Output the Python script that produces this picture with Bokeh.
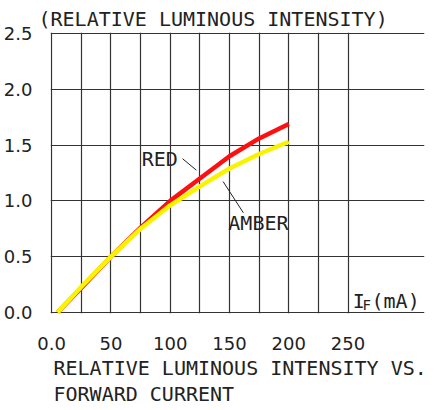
from bokeh.plotting import figure
from bokeh.models import Range1d, FixedTicker, Title, NumeralTickFormatter
from bokeh.core.properties import value
from bokeh.embed import file_html
from bokeh.resources import INLINE

# data
current_ma = [5, 25, 50, 75, 100, 125, 150, 175, 200]
red_iv = [0.0, 0.22, 0.5, 0.76, 1.0, 1.2, 1.4, 1.56, 1.69]
amber_iv = [0.0, 0.23, 0.5, 0.75, 0.96, 1.13, 1.29, 1.42, 1.53]
x_ticks = [0, 50, 100, 150, 200, 250]
y_ticks = [0.0, 0.5, 1.0, 1.5, 2.0, 2.5]
x_grid = [0, 25, 50, 75, 100, 125, 150, 175, 200, 225, 250]

# annotation positions (data coords)
label_x = [76, 149]
label_y = [1.375, 0.80]
label_text = ["RED", "AMBER"]
leader_x0 = [110.4, 144.6]
leader_y0 = [1.378, 1.173]
leader_x1 = [122.1, 161.7]
leader_y1 = [1.275, 0.893]
unit_x = [254.0, 269.8]
unit_y = [0.10, 0.10]
unit_text = ["I", "(mA)"]
sub_x = [262.3]
sub_y = [0.065]
sub_text = ["F"]

FONT = "DejaVu Sans Mono"
TICKFONT = "DejaVu Sans"
TXT = "#222222"
FS = "20px"
TFS = "18px"

p = figure(width=430, height=408, output_backend="svg", toolbar_location=None,
           x_range=Range1d(-1, 314.5), y_range=Range1d(-0.01, 2.51),
           min_border_left=40, min_border_right=6, min_border_top=32, min_border_bottom=91)
p.background_fill_color = "white"
p.border_fill_color = "white"
p.outline_line_color = None

p.xgrid.ticker = FixedTicker(ticks=x_grid)
p.ygrid.ticker = FixedTicker(ticks=y_ticks)
p.xgrid.bounds = (0, 2.5)
p.ygrid.bounds = (0, 250)
for g in (p.xgrid, p.ygrid):
    g.grid_line_color = "#333333"
    g.grid_line_width = 1.2
    g.grid_line_alpha = 1.0

p.xaxis.ticker = FixedTicker(ticks=x_ticks)
p.xaxis.major_label_overrides = {0: "0.0"}
p.yaxis.ticker = FixedTicker(ticks=y_ticks)
p.yaxis.formatter = NumeralTickFormatter(format="0.0")
for ax in (p.xaxis, p.yaxis):
    ax.axis_line_color = None
    ax.major_tick_line_color = None
    ax.minor_tick_line_color = None
    ax.major_label_text_font = TICKFONT
    ax.major_label_text_font_size = TFS
    ax.major_label_text_color = TXT
p.xaxis.major_label_standoff = 17
p.yaxis.major_label_standoff = 12

p.line(current_ma, red_iv, line_color="#ff1010", line_width=4.5)
p.line(current_ma, amber_iv, line_color="#f8f400", line_width=4.5)

p.segment(x0=leader_x0, y0=leader_y0, x1=leader_x1, y1=leader_y1,
          line_color="#222222", line_width=1)
p.text(x=label_x, y=label_y, text=label_text,
       text_font=value(FONT), text_font_size=FS, text_color=TXT,
       text_baseline="middle", text_align="left")
p.text(x=unit_x, y=unit_y, text=unit_text,
       text_font=value(FONT), text_font_size=FS, text_color=TXT,
       text_baseline="middle", text_align="left")
p.text(x=sub_x, y=sub_y, text=sub_text,
       text_font=value(FONT), text_font_size="14px", text_color=TXT,
       text_baseline="middle", text_align="left")

top = Title(text="(RELATIVE LUMINOUS INTENSITY)", align="left", offset=-12,
            text_font=FONT, text_font_size=FS, text_font_style="normal",
            text_color=TXT, standoff=4)
p.add_layout(top, "above")

bottom = Title(text="RELATIVE LUMINOUS INTENSITY VS.\nFORWARD CURRENT", align="left", offset=3,
               text_font=FONT, text_font_size=FS, text_font_style="normal", text_color=TXT,
               text_line_height=1.1, standoff=4)
p.add_layout(bottom, "below")

open("out.html", "w").write(file_html(p, INLINE))
